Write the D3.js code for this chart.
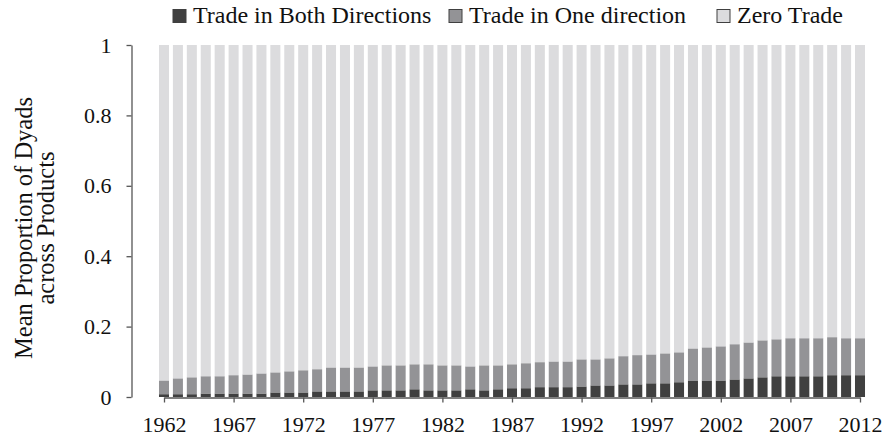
<!DOCTYPE html>
<html>
<head>
<meta charset="utf-8">
<script src="https://cdn.jsdelivr.net/npm/d3@7"></script>
<style>
  html, body { margin: 0; padding: 0; background: #fff; }
  svg { display: block; }
</style>
</head>
<body>
<svg id="chart" width="889" height="440"></svg>
<script>
// ---- data ----
const years = d3.range(1962, 2013);
const seriesNames = ["Trade in Both Directions", "Trade in One direction", "Zero Trade"];
const bothDirections = [
  0.008,0.008,0.008,0.010,0.010,0.010,0.010,0.010,0.013,0.013,
  0.013,0.016,0.016,0.016,0.016,0.019,0.019,0.019,0.022,0.019,
  0.019,0.019,0.022,0.019,0.022,0.025,0.025,0.028,0.028,0.028,
  0.030,0.033,0.033,0.036,0.036,0.039,0.039,0.042,0.047,0.047,
  0.047,0.050,0.053,0.056,0.059,0.059,0.059,0.059,0.062,0.062,
  0.062
];
const oneDirection = [
  0.039,0.045,0.048,0.049,0.049,0.052,0.054,0.057,0.057,0.060,
  0.063,0.063,0.068,0.068,0.068,0.068,0.071,0.071,0.071,0.074,
  0.071,0.071,0.065,0.071,0.068,0.068,0.071,0.071,0.073,0.073,
  0.077,0.074,0.077,0.080,0.083,0.082,0.085,0.085,0.091,0.094,
  0.097,0.100,0.102,0.105,0.105,0.108,0.108,0.108,0.108,0.105,
  0.105
];
const zeroTrade = [
  0.953,0.947,0.944,0.941,0.941,0.938,0.936,0.933,0.930,0.927,
  0.924,0.921,0.916,0.916,0.916,0.913,0.910,0.910,0.907,0.907,
  0.910,0.910,0.913,0.910,0.910,0.907,0.904,0.901,0.899,0.899,
  0.893,0.893,0.890,0.884,0.881,0.879,0.876,0.873,0.862,0.859,
  0.856,0.850,0.845,0.839,0.836,0.833,0.833,0.833,0.830,0.833,
  0.833
];
const yTicks = [0, 0.2, 0.4, 0.6, 0.8, 1];
const xTickYears = [1962, 1967, 1972, 1977, 1982, 1987, 1992, 1997, 2002, 2007, 2012];
const yTitleLines = ["Mean Proportion of Dyads", "across Products"];

// ---- styles ----
const FONT = "'Liberation Serif', 'Times New Roman', serif";
const colors = ["#404040", "#939396", "#dcdcde"];
const axisColor = "#555";
const textColor = "#111";

const svg = d3.select("#chart");

const rows = years.map((y, i) => ({
  year: y,
  [seriesNames[0]]: bothDirections[i],
  [seriesNames[1]]: oneDirection[i],
  [seriesNames[2]]: zeroTrade[i]
}));

const stacked = d3.stack().keys(seriesNames)(rows);

const x = d3.scalePoint().domain(years).range([164, 860]);
const barW = x.step() * 0.72;
const y = d3.scaleLinear().domain([0, 1]).range([397, 45]);

// bars
svg.append("g").selectAll("g")
  .data(stacked)
  .join("g")
  .attr("fill", (d, i) => colors[i])
  .selectAll("rect")
  .data(d => d)
  .join("rect")
  .attr("x", d => x(d.data.year) - barW / 2)
  .attr("width", barW)
  .attr("y", d => y(d[1]))
  .attr("height", d => y(d[0]) - y(d[1]));

// y axis
const yAxis = svg.append("g")
  .attr("transform", "translate(131.5,0)")
  .call(d3.axisLeft(y).tickValues(yTicks).tickFormat(d => String(d)).tickSize(5).tickSizeOuter(0).tickPadding(15));
yAxis.select(".domain").attr("stroke", axisColor).attr("stroke-width", 1.3);
yAxis.selectAll(".tick line").attr("stroke", axisColor).attr("stroke-width", 1.3);
yAxis.attr("font-family", FONT);
yAxis.selectAll(".tick text").attr("fill", textColor).attr("font-size", 22).attr("font-family", FONT);

// x axis
const xAxis = svg.append("g")
  .attr("transform", "translate(0,397.5)")
  .call(d3.axisBottom(x).tickValues(xTickYears).tickSize(5).tickSizeOuter(0).tickPadding(14));
xAxis.select(".domain").attr("stroke", axisColor).attr("stroke-width", 1.3);
xAxis.selectAll(".tick line").attr("stroke", axisColor).attr("stroke-width", 1.3);
xAxis.attr("font-family", FONT);
xAxis.selectAll(".tick text").attr("fill", textColor).attr("font-size", 22).attr("font-family", FONT);

// y title
const yTitle = svg.append("text")
  .attr("transform", "translate(32,228) rotate(-90)")
  .attr("text-anchor", "middle")
  .attr("fill", textColor)
  .attr("font-family", FONT)
  .attr("font-size", 24.5);
yTitle.selectAll("tspan")
  .data(yTitleLines)
  .join("tspan")
  .attr("x", 0)
  .attr("dy", (d, i) => i === 0 ? 0 : 22)
  .text(d => d);

// legend
const legendX = [173, 449, 717];
const legend = svg.append("g").selectAll("g")
  .data(seriesNames)
  .join("g")
  .attr("transform", (d, i) => `translate(${legendX[i]},9.5)`);
legend.append("rect")
  .attr("width", 13).attr("height", 13)
  .attr("fill", (d, i) => colors[i])
  .attr("stroke", "#404040").attr("stroke-width", 1);
legend.append("text")
  .attr("x", 20).attr("y", 13.5)
  .attr("fill", textColor)
  .attr("font-family", FONT)
  .attr("font-size", 24)
  .text(d => d);
</script>
</body>
</html>
